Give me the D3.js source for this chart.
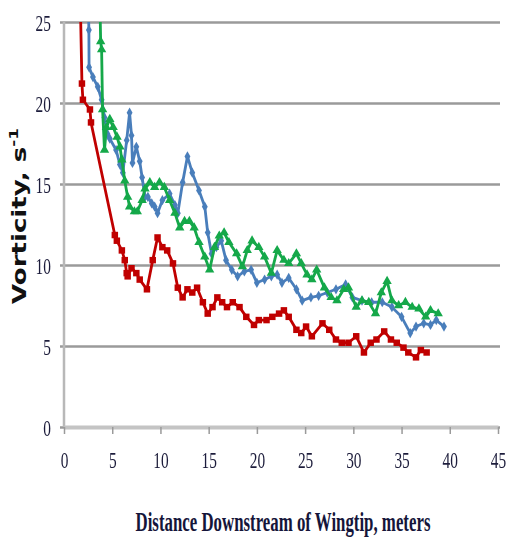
<!DOCTYPE html>
<html>
<head>
<meta charset="utf-8">
<script src="https://cdn.jsdelivr.net/npm/d3@7"></script>
<style>
  body { margin: 0; background: #fff; }
  svg { display: block; }
  .tick text { font-family: "Liberation Serif", "Times New Roman", serif; fill: #1c1c3a; }
</style>
</head>
<body>
<div id="chart"></div>
<script>
// data: [distance (m), vorticity (1/s)]
const redSeries = [
  [1.7, 26], [1.86, 21.2], [1.96, 20.2], [2.69, 19.6], [2.8, 18.8], [5.27, 11.85], [5.48, 11.5],
  [6.0, 10.9], [6.3, 10.3], [6.5, 9.5], [6.6, 9.3], [7.0, 9.8], [7.5, 9.5], [7.85, 9.1], [8.6, 8.5],
  [9.2, 10.3], [9.7, 11.7], [10.2, 11.1], [10.7, 10.9], [11.3, 10.1], [11.8, 8.6], [12.3, 8.0],
  [12.8, 8.5], [13.3, 8.3], [13.8, 8.6], [14.4, 7.7], [14.9, 7.0], [15.4, 7.4], [15.9, 8.0],
  [16.4, 7.7], [16.9, 7.4], [17.5, 7.7], [18.2, 7.4], [18.9, 6.8], [19.7, 6.3], [20.2, 6.6],
  [21.0, 6.6], [21.6, 6.8], [22.3, 7.0], [22.8, 7.2], [23.3, 6.8], [24.1, 6.0], [24.6, 5.8],
  [25.1, 6.2], [25.7, 5.6], [26.8, 6.4], [27.5, 6.0], [28.2, 5.4], [28.8, 5.2], [29.5, 5.2],
  [30.3, 5.6], [31.1, 4.6], [31.8, 5.2], [32.4, 5.4], [33.2, 5.9], [33.9, 5.4], [34.5, 5.2],
  [35.2, 4.9], [35.7, 4.6], [36.5, 4.3], [37.0, 4.75], [37.6, 4.6]
];
const blueSeries = [
  [2.5, 27], [2.58, 24.5], [2.6, 22.2], [3.0, 21.6], [3.5, 21.0], [3.9, 20.2], [4.2, 19.1],
  [4.5, 18.1], [4.75, 17.8], [5.4, 17.1], [5.8, 16.2], [6.1, 15.7], [6.5, 17.7], [6.8, 19.4],
  [7.0, 18.0], [7.1, 16.3], [7.5, 17.3], [7.85, 16.4], [8.1, 15.4], [8.4, 14.2], [8.7, 14.2],
  [9.1, 13.8], [9.4, 13.6], [9.7, 13.2], [10.2, 14.0], [10.95, 14.4], [11.5, 13.7], [11.8, 13.2],
  [12.3, 15.1], [12.8, 16.7], [13.3, 15.7], [14.0, 14.6], [14.6, 13.6], [14.9, 12.0], [15.3, 10.7],
  [15.8, 11.1], [16.3, 11.5], [16.8, 10.3], [17.4, 9.7], [18.0, 9.3], [18.7, 9.6], [19.4, 9.7],
  [20.0, 8.9], [20.8, 9.1], [21.5, 9.3], [22.1, 9.4], [22.6, 8.9], [23.3, 9.2], [24.1, 8.5],
  [24.7, 7.8], [25.6, 8.0], [26.4, 8.1], [27.3, 8.3], [28.2, 8.5], [29.2, 8.8], [29.9, 8.0],
  [30.9, 7.8], [31.9, 7.7], [33.0, 7.7], [34.0, 7.4], [35.0, 6.8], [35.9, 5.8], [36.5, 6.2],
  [37.3, 6.4], [38.0, 6.3], [38.6, 6.6], [39.4, 6.2]
];
const greenSeries = [
  [3.7, 27], [3.8, 23.8], [3.9, 23.3], [4.0, 19.6], [4.2, 17.1], [4.4, 18.5], [4.75, 19.0],
  [5.1, 18.5], [5.5, 17.9], [5.8, 17.3], [6.0, 16.5], [6.3, 15.2], [6.6, 14.2], [6.8, 13.6],
  [7.3, 13.3], [7.6, 13.3], [8.1, 14.0], [8.4, 14.7], [8.9, 15.1], [9.4, 14.8], [9.9, 15.1],
  [10.4, 14.8], [10.95, 14.0], [11.5, 13.2], [12.0, 12.3], [12.5, 12.7], [13.0, 12.7], [13.5, 12.3],
  [14.0, 11.4], [14.6, 10.5], [15.1, 9.7], [15.6, 11.1], [16.1, 11.8], [16.6, 12.0], [17.1, 11.4],
  [17.9, 10.7], [18.5, 9.9], [19.0, 10.9], [19.5, 11.5], [20.2, 11.1], [20.8, 10.5], [21.5, 9.5],
  [22.1, 10.9], [22.8, 10.3], [23.3, 10.1], [24.1, 10.7], [24.6, 10.1], [25.2, 9.4], [25.7, 9.1],
  [26.2, 9.7], [27.0, 8.6], [27.7, 8.0], [28.3, 7.8], [29.0, 8.5], [29.5, 8.6], [30.3, 7.4],
  [30.9, 7.8], [31.6, 7.7], [32.3, 7.0], [32.9, 8.3], [33.5, 9.0], [34.0, 7.8], [34.7, 7.5],
  [35.4, 7.7], [36.1, 7.4], [36.8, 7.3], [37.5, 6.8], [38.0, 7.2], [38.8, 7.0]
];
const xTicks = [0, 5, 10, 15, 20, 25, 30, 35, 40, 45];
const yTicks = [0, 5, 10, 15, 20, 25];

const svgWidth = 507, svgHeight = 540;
const margin = { top: 22, right: 7, bottom: 113, left: 64 };
const width = svgWidth - margin.left - margin.right;
const height = svgHeight - margin.top - margin.bottom;

const svg = d3.select("#chart").append("svg")
  .attr("width", svgWidth)
  .attr("height", svgHeight);

const defs = svg.append("defs");
defs.append("filter").attr("id", "soft")
  .append("feGaussianBlur").attr("stdDeviation", 0.6);
defs.append("clipPath").attr("id", "plotClip")
  .append("rect").attr("x", -5).attr("y", 0).attr("width", width + 10).attr("height", height + 5);

const chartGroup = svg.append("g")
  .attr("transform", `translate(${margin.left}, ${margin.top})`)
  .attr("filter", "url(#soft)");

const x = d3.scaleLinear().domain([0, 45]).range([0, width - 2]);
const y = d3.scaleLinear().domain([0, 25]).range([height, 0]);

// horizontal gridlines + y labels
const yAxis = chartGroup.append("g")
  .call(d3.axisLeft(y).tickValues(yTicks).tickSize(-(width + 4)).tickPadding(8).tickFormat(d3.format("d")))
  .attr("transform", "translate(-4,0)");
yAxis.select(".domain").remove();
yAxis.selectAll(".tick line").attr("stroke", "#9a9a9a").attr("stroke-width", 2.6);
yAxis.selectAll(".tick text")
  .attr("font-size", 24)
  .attr("transform", "translate(-4,1) scale(0.64,1)");

// left axis line
chartGroup.append("line")
  .attr("x1", 0).attr("x2", 0).attr("y1", 0).attr("y2", height)
  .attr("stroke", "#b8b8b8").attr("stroke-width", 2.5);

// bottom axis
const xAxis = chartGroup.append("g")
  .attr("transform", `translate(0, ${height})`)
  .call(d3.axisBottom(x).tickValues(xTicks).tickSize(7).tickPadding(17).tickSizeOuter(0));
xAxis.select(".domain").attr("stroke", "#c4c4c4").attr("stroke-width", 4);
xAxis.selectAll(".tick line").attr("stroke", "#9a9a9a").attr("stroke-width", 1.5);
xAxis.selectAll(".tick text")
  .attr("font-size", 24)
  .attr("transform", "scale(0.64,1)");

// series
const line = d3.line().x(d => x(d[0])).y(d => y(d[1]));
const plot = chartGroup.append("g").attr("clip-path", "url(#plotClip)");

const seriesList = [
  { name: "red", values: redSeries, color: "#c00000", symbol: d3.symbolSquare, size: 42 },
  { name: "blue", values: blueSeries, color: "#4a7ebb", symbol: d3.symbolDiamond, size: 30 },
  { name: "green", values: greenSeries, color: "#12a84a", symbol: d3.symbolTriangle, size: 38 }
];

seriesList.forEach(s => {
  plot.append("path")
    .attr("d", line(s.values))
    .attr("fill", "none")
    .attr("stroke", s.color)
    .attr("stroke-width", 2.8)
    .attr("stroke-linejoin", "round");
  plot.selectAll(`.pt-${s.name}`)
    .data(s.values)
    .enter()
    .append("path")
    .attr("class", `pt-${s.name}`)
    .attr("d", d3.symbol().type(s.symbol).size(s.size))
    .attr("transform", d => `translate(${x(d[0])}, ${y(d[1])})`)
    .attr("fill", s.color);
});

// axis titles, squeezed horizontally like the original
const yTitle = svg.append("text")
  .attr("text-anchor", "middle")
  .attr("font-family", "'DejaVu Sans', Arial, sans-serif")
  .attr("font-weight", "bold")
  .attr("font-size", 20)
  .attr("fill", "#111");
yTitle.append("tspan").text("Vorticity, s");
yTitle.append("tspan").attr("font-size", 13).attr("dy", -8).text("-1");
const yW = yTitle.node().getComputedTextLength();
yTitle.attr("transform", `translate(26, 216) rotate(-90) scale(${176 / yW}, 1)`);

const xTitle = svg.append("text")
  .attr("text-anchor", "middle")
  .attr("font-family", "'Liberation Serif', 'Times New Roman', serif")
  .attr("font-weight", "bold")
  .attr("font-size", 28)
  .attr("fill", "#15153a")
  .text("Distance Downstream of Wingtip, meters");
const xW = xTitle.node().getComputedTextLength();
xTitle.attr("transform", `translate(283, 531) scale(${295 / xW}, 1)`);
</script>
</body>
</html>
